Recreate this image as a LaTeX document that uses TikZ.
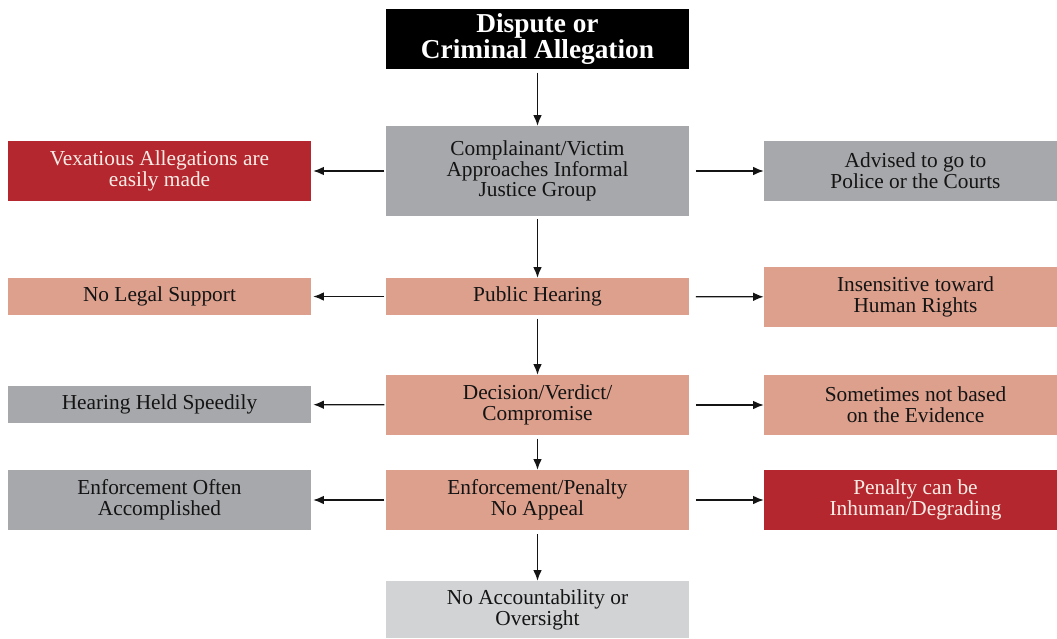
\documentclass[tikz,border=0pt]{standalone}
\usepackage{fontspec}
\setmainfont{Liberation Serif}
\usepackage{xcolor}
\usetikzlibrary{arrows.meta,positioning}
\definecolor{ink}{HTML}{141414}
\definecolor{boxred}{HTML}{B5272F}
\definecolor{boxsalmon}{HTML}{DCA08D}
\definecolor{boxgray}{HTML}{A7A8AB}
\definecolor{boxpale}{HTML}{D2D3D5}
\definecolor{paletext}{HTML}{F8EDE6}
\tikzset{
  flowbox/.style={draw=none,minimum width=227.25pt,minimum height=45pt,
                  inner sep=2pt,align=center,text=ink,
                  font=\fontsize{16}{15.6}\selectfont},
  titlebox/.style={flowbox,fill=black,text=white,
                   font=\fontsize{20.5}{17}\selectfont\bfseries},
  graybox/.style={flowbox,fill=boxgray},
  redbox/.style={flowbox,fill=boxred,text=paletext},
  salmonbox/.style={flowbox,fill=boxsalmon},
  palebox/.style={flowbox,fill=boxpale},
  flowarr/.style={-{Latex[length=8pt,width=6.5pt]},line width=1pt,color=ink}
}

\begin{document}
\begin{tikzpicture}[x=0.75pt,y=-0.75pt]
  \useasboundingbox (0,0) rectangle (1057,639);

  % centre column
  \node[titlebox] (top) at (537.5,39) {Dispute or\\Criminal Allegation};
  \node[graybox,minimum height=67.5pt] (comp) at (537.5,171)
       {Complainant/Victim\\Approaches Informal\\Justice Group};
  \node[salmonbox,minimum height=27.75pt] (hear) at (537.5,296.5) {Public Hearing};
  \node[salmonbox] (dec) at (537.5,405) {Decision/Verdict/\\Compromise};
  \node[salmonbox] (enf) at (537.5,500) {Enforcement/Penalty\\No Appeal};
  \node[palebox,minimum height=42.75pt] (noacc) at (537.5,609.5)
       {No Accountability or\\Oversight};

  % left column
  \node[redbox] (vex) at (159.5,171) {Vexatious Allegations are\\easily made};
  \node[salmonbox,minimum height=27.75pt] (nolegal) at (159.5,296.5) {No Legal Support};
  \node[graybox,minimum height=27.75pt] (speedy) at (159.5,404.5) {Hearing Held Speedily};
  \node[graybox] (often) at (159.5,500) {Enforcement Often\\Accomplished};

  % right column, runs off the page edge
  \node[graybox] (adv) at (915.5,171) {Advised to go to\\Police or the Courts};
  \node[salmonbox] (insens) at (915.5,297) {Insensitive toward\\Human Rights};
  \node[salmonbox] (sometimes) at (915.5,405) {Sometimes not based\\on the Evidence};
  \node[redbox] (inhuman) at (915.5,500) {Penalty can be\\Inhuman/Degrading};

  % connectors
  \draw[flowarr,shorten <=2.5pt] (top) -- (comp);
  \draw[flowarr,shorten <=2pt] (comp) -- (hear);
  \draw[flowarr,shorten <=2.5pt] (hear) -- (dec);
  \draw[flowarr,shorten <=2.5pt] (dec) -- (enf);
  \draw[flowarr,shorten <=3pt] (enf) -- (noacc);

  \draw[flowarr,shorten <=1pt,shorten >=1.5pt] (comp) -- (vex);
  \draw[flowarr,shorten <=1pt,shorten >=1.5pt] (hear) -- (nolegal);
  \draw[flowarr,shorten <=1pt,shorten >=1.5pt] (dec) -- (speedy);
  \draw[flowarr,shorten <=1pt,shorten >=1.5pt] (enf) -- (often);

  \draw[flowarr,shorten <=5pt] (comp) -- (adv);
  \draw[flowarr,shorten <=5pt] (hear) -- (insens);
  \draw[flowarr,shorten <=5pt] (dec) -- (sometimes);
  \draw[flowarr,shorten <=5pt] (enf) -- (inhuman);
\end{tikzpicture}
\end{document}
